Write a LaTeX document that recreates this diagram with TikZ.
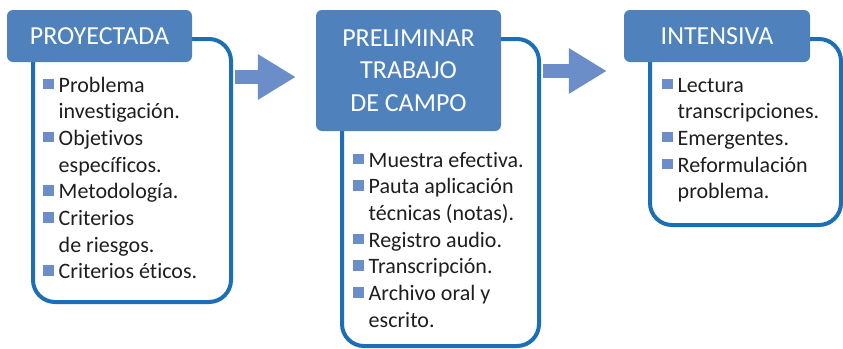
\documentclass[tikz,border=0pt]{standalone}
\usepackage{fontspec}
\setmainfont{Carlito}[Ligatures=NoCommon]
\usetikzlibrary{arrows.meta}
\definecolor{headblue}{HTML}{4F81BD}
\definecolor{lineblue}{HTML}{1C6EB7}
\definecolor{arrowblue}{HTML}{6B8DC8}
\definecolor{textgray}{HTML}{1E1E1E}
\newcommand{\bul}{\textcolor{arrowblue}{\rule[3pt]{10.5pt}{10.5pt}}}
\begin{document}
\begin{tikzpicture}[x=1pt,y=-1pt,line join=round,
	head/.style={fill=headblue,rounded corners=6pt,text=white,align=center,inner sep=0pt,font=\fontsize{26}{32.5}\selectfont},
	panel/.style={draw=lineblue,line width=4pt,rounded corners=22pt,inner sep=0pt},
	flow/.style={arrowblue,line width=14pt,-{Triangle[length=38pt,width=43pt]}},
	lista/.style={anchor=base west,inner sep=0pt,text=textgray,align=left,font=\fontsize{22}{26.7}\selectfont}]
	\useasboundingbox (0,0) rectangle (843,348);
	% marcos
	\node[panel,minimum width=198pt,minimum height=263pt] (body1) at (132,170.5) {};
	\node[panel,minimum width=197pt,minimum height=307pt] (body2) at (440.5,192.5) {};
	\node[panel,minimum width=191pt,minimum height=186pt] (body3) at (745.5,132) {};
	% etapas
	\node[head,minimum width=185pt,minimum height=52pt] (head1) at (99.5,36) {PROYECTADA};
	\node[head,minimum width=185pt,minimum height=121pt] (head2) at (408.5,70.5) {PRELIMINAR\\TRABAJO\\DE CAMPO};
	\node[head,minimum width=186pt,minimum height=52pt] (head3) at (717,36) {INTENSIVA};
	% contenidos
	\node[lista] (list1) at (43,92) {\begin{tabular}[t]{@{}l@{\hspace{5pt}}l@{}}
			\bul & Problema\\ & investigación.\\
			\bul & Objetivos\\ & específicos.\\
			\bul & Metodología.\\
			\bul & Criterios\\ & de riesgos.\\
			\bul & Criterios éticos.
		\end{tabular}};
	\node[lista] (list2) at (353,167) {\begin{tabular}[t]{@{}l@{\hspace{5pt}}l@{}}
			\bul & Muestra efectiva.\\
			\bul & Pauta aplicación\\ & técnicas (notas).\\
			\bul & Registro audio.\\
			\bul & Transcripción.\\
			\bul & Archivo oral y\\ & escrito.
		\end{tabular}};
	\node[lista] (list3) at (662,92) {\begin{tabular}[t]{@{}l@{\hspace{5pt}}l@{}}
			\bul & Lectura\\ & transcripciones.\\
			\bul & Emergentes.\\
			\bul & Reformulación\\ & problema.
		\end{tabular}};
	% flechas
	\foreach \a/\b/\y/\g in {body1/head2/77/20,body2/head3/71/17}
	\draw[flow] ([xshift=2pt]\a.east |- 0,\y) -- ([xshift=-\g pt]\b.west |- 0,\y);
\end{tikzpicture}
\end{document}
